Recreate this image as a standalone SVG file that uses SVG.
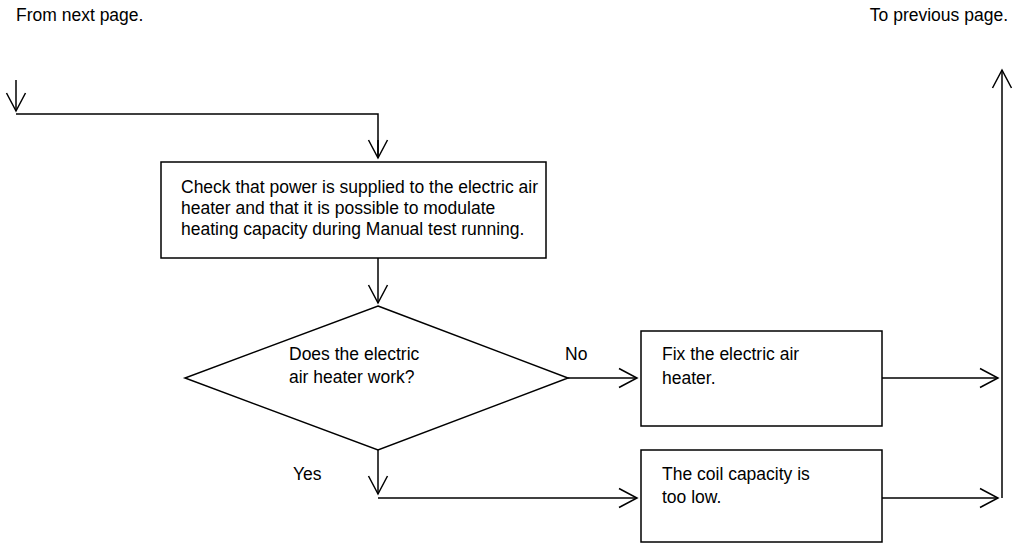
<svg xmlns="http://www.w3.org/2000/svg" width="1026" height="544" viewBox="0 0 1026 544">
<style>
text{font-family:"Liberation Sans",Arial,sans-serif;font-size:17.5px;fill:#000}
.n{fill:#fff;stroke:#000;stroke-width:1.5}
.c{fill:none;stroke:#000;stroke-width:1.5}
</style>
<defs>
<marker id="a" markerUnits="userSpaceOnUse" markerWidth="24" markerHeight="24" viewBox="-20 -12 24 24" refX="0" refY="0" orient="auto">
<polyline points="-18,-9.5 0,0 -18,9.5" fill="none" stroke="#000" stroke-width="1.5"/>
</marker>
</defs>
<rect width="1026" height="544" fill="#fff"/>
<g id="labels">
<text x="16" y="21">From next page.</text>
<text x="1008" y="21" text-anchor="end">To previous page.</text>
</g>
<g id="connectors">
<path class="c" d="M16,80 V111" marker-end="url(#a)"/>
<path class="c" d="M16,114 H378 V157"/>
<path class="c" d="M378,140 V158" marker-end="url(#a)"/>
<path class="c" d="M378,258 V303" marker-end="url(#a)"/>
<path class="c" d="M568,378 H637" marker-end="url(#a)"/>
<path class="c" d="M378,450 V494" marker-end="url(#a)"/>
<path class="c" d="M378,498 H637" marker-end="url(#a)"/>
<path class="c" d="M882,378 H998" marker-end="url(#a)"/>
<path class="c" d="M882,498 H998" marker-end="url(#a)"/>
<path class="c" d="M1002,498 V70" marker-end="url(#a)"/>
<text x="565" y="360">No</text>
<text x="293" y="480">Yes</text>
</g>
<g id="check">
<rect class="n" x="161" y="162" width="385" height="96"/>
<text x="181" y="193">Check that power is supplied to the electric air</text>
<text x="181" y="214">heater and that it is possible to modulate</text>
<text x="181" y="235">heating capacity during Manual test running.</text>
</g>
<g id="decision">
<polygon class="n" points="378,306 568,378 378,450 185,378"/>
<text x="289" y="360">Does the electric</text>
<text x="289" y="383">air heater work?</text>
</g>
<g id="fix">
<rect class="n" x="641" y="331" width="241" height="95"/>
<text x="662" y="360">Fix the electric air</text>
<text x="662" y="384">heater.</text>
</g>
<g id="coil">
<rect class="n" x="641" y="450" width="241" height="92"/>
<text x="662" y="480">The coil capacity is</text>
<text x="662" y="503">too low.</text>
</g>
</svg>
